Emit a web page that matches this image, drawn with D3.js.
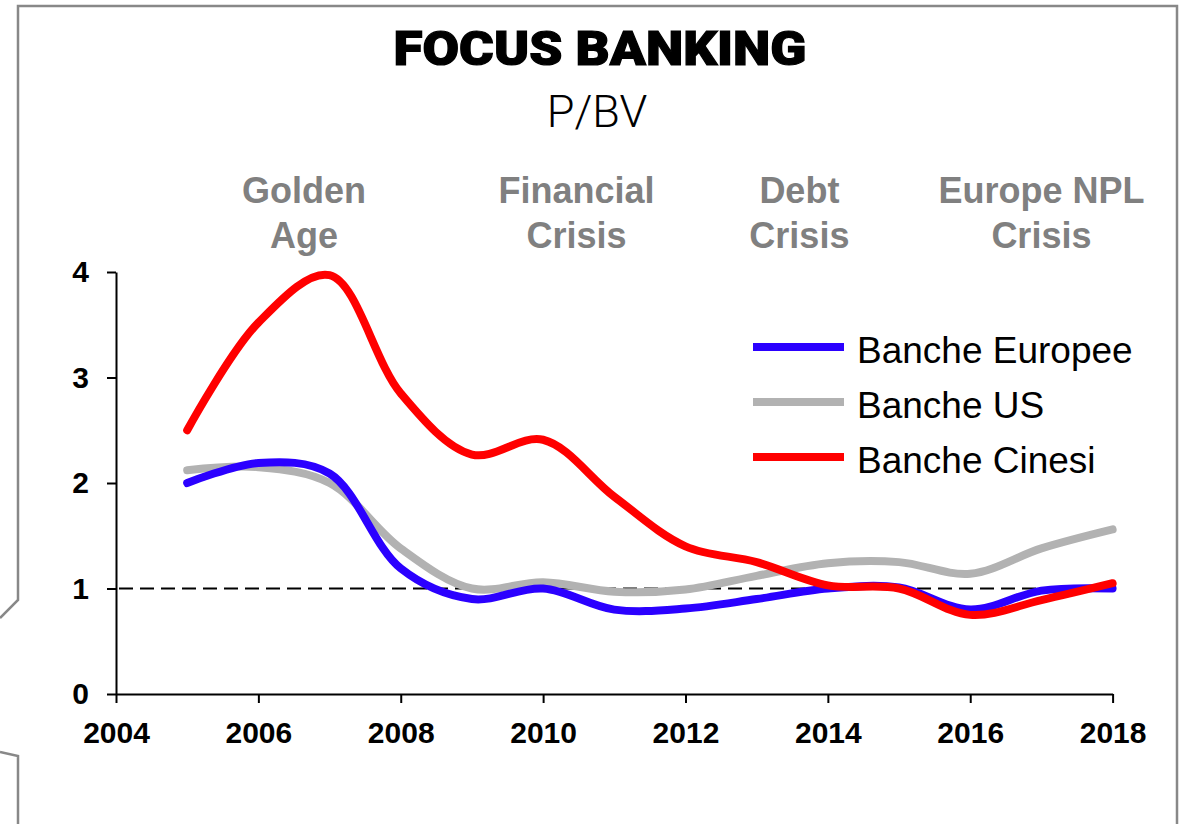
<!DOCTYPE html>
<html>
<head>
<meta charset="utf-8">
<script src="https://cdn.jsdelivr.net/npm/d3@7"></script>
<style>
  body { margin: 0; background: #fff; }
  text { font-family: "Liberation Sans", Arial, sans-serif; }
</style>
</head>
<body>
<div id="chart"></div>
<script>
// DATA
const years = [2005, 2006, 2007, 2008, 2009, 2010, 2011, 2012, 2013, 2014, 2015, 2016, 2017, 2018];
const europee = [2.00, 2.19, 2.09, 1.19, 0.90, 1.00, 0.80, 0.81, 0.90, 1.00, 1.01, 0.80, 0.98, 1.00];
const us = [2.12, 2.15, 2.00, 1.38, 1.00, 1.06, 0.97, 0.99, 1.12, 1.24, 1.25, 1.14, 1.38, 1.56];
const cinesi = [2.50, 3.52, 3.97, 2.85, 2.27, 2.41, 1.87, 1.40, 1.25, 1.03, 1.00, 0.75, 0.89, 1.05];
const seriesNames = ["Banche Europee", "Banche US", "Banche Cinesi"];
const xTicks = [2004, 2006, 2008, 2010, 2012, 2014, 2016, 2018];
const yTicks = [0, 1, 2, 3, 4];
const phases = [
  { x: 2006.64, lines: ["Golden", "Age"] },
  { x: 2010.47, lines: ["Financial", "Crisis"] },
  { x: 2013.6, lines: ["Debt", "Crisis"] },
  { x: 2017.0, lines: ["Europe NPL", "Crisis"] }
];

const W = 1186;
const H = 824;
const colors = ["#2b00ff", "#b2b2b2", "#ff0000"];
const allSeries = [europee, us, cinesi];

const svg = d3.select("#chart").append("svg")
  .attr("width", W)
  .attr("height", H);

// frame (callout shape)
const frame = svg.append("g")
  .attr("fill", "none")
  .attr("stroke", "#888888")
  .attr("stroke-width", 2.5);
frame.append("path").attr("d", "M0,618 L18,600 L18,6 L1177,6 L1177,830");
frame.append("path").attr("d", "M0,752 L18,756 L18,830");

// scales
const x = d3.scaleLinear().domain([2004, 2018]).range([116, 1112.6]);
const y = d3.scaleLinear().domain([0, 4]).range([694, 272]);

// title
svg.append("text")
  .attr("x", 600).attr("y", 65)
  .attr("text-anchor", "middle")
  .attr("textLength", 413)
  .attr("lengthAdjust", "spacingAndGlyphs")
  .style("font-family", "Roboto, 'Liberation Sans', sans-serif")
  .style("font-weight", 900)
  .style("font-size", "48px")
  .attr("stroke", "#000")
  .attr("stroke-width", 1.2)
  .text("FOCUS BANKING");

svg.append("text")
  .attr("x", 597).attr("y", 127)
  .attr("text-anchor", "middle")
  .style("font-family", "Roboto, 'Noto Sans', sans-serif")
  .style("font-weight", 300)
  .style("font-size", "45px")
  .text("P/BV");

// phase labels
phases.forEach((p) => {
  const t = svg.append("text")
    .attr("text-anchor", "middle")
    .attr("fill", "#808080")
    .style("font-weight", "bold")
    .style("font-size", "36px");
  p.lines.forEach((l, i) => {
    t.append("tspan").attr("x", x(p.x)).attr("y", 203 + i * 45).text(l);
  });
});

// axes
const gx = svg.append("g")
  .attr("transform", "translate(0," + y(0) + ")")
  .call(d3.axisBottom(x).tickValues(xTicks).tickFormat(d3.format("d"))
    .tickSize(9).tickSizeOuter(0).tickPadding(19));

const gy = svg.append("g")
  .attr("transform", "translate(" + x(2004) + ",0)")
  .call(d3.axisLeft(y).tickValues(yTicks).tickFormat(d3.format("d"))
    .tickSize(9).tickSizeOuter(0).tickPadding(18));

[gx, gy].forEach((g) => {
  g.select(".domain").attr("stroke", "#000").attr("stroke-width", 2);
  g.selectAll(".tick line").attr("stroke", "#000").attr("stroke-width", 2);
  g.selectAll(".tick text")
    .attr("fill", "#000")
    .style("font-family", "'Liberation Sans', Arial, sans-serif")
    .style("font-weight", "bold")
    .style("font-size", "30px");
});

// reference line at 1
svg.append("line")
  .attr("x1", x(2004) + 3).attr("x2", x(2018))
  .attr("y1", y(1)).attr("y2", y(1))
  .attr("stroke", "#000")
  .attr("stroke-width", 2)
  .attr("stroke-dasharray", "14,7");

// series
const line = d3.line()
  .x((d, i) => x(years[i]))
  .y((d) => y(d))
  .curve(d3.curveCatmullRom);

[1, 0, 2].forEach((k) => {
  svg.append("path")
    .datum(allSeries[k])
    .attr("d", line)
    .attr("fill", "none")
    .attr("stroke", colors[k])
    .attr("stroke-width", 8)
    .attr("stroke-linecap", "round")
    .attr("stroke-linejoin", "round");
});

// legend
seriesNames.forEach((name, i) => {
  const ly = 347 + i * 55;
  svg.append("line")
    .attr("x1", 753).attr("x2", 844)
    .attr("y1", ly).attr("y2", ly)
    .attr("stroke", colors[i])
    .attr("stroke-width", 8);
  svg.append("text")
    .attr("x", 857).attr("y", ly + 16)
    .style("font-size", "37px")
    .attr("fill", "#000")
    .text(name);
});
</script>
</body>
</html>
